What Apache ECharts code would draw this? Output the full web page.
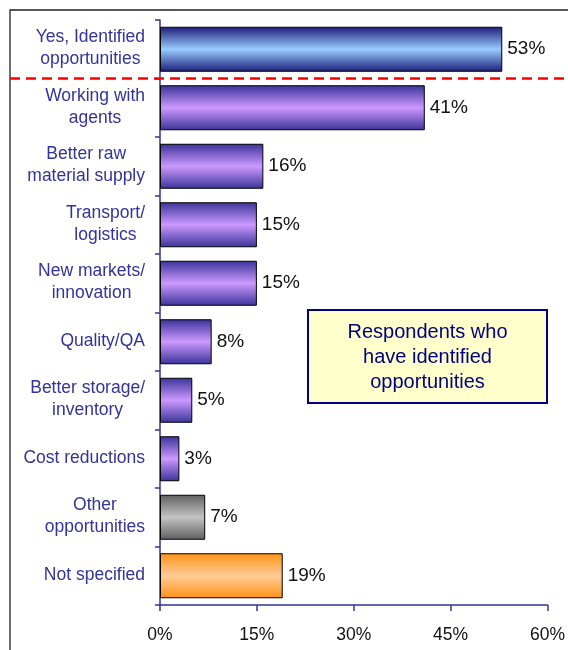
<!DOCTYPE html>
<html>
<head>
<meta charset="utf-8">
<script src="https://cdn.jsdelivr.net/npm/echarts@6/dist/echarts.min.js"></script>
<style>
  html, body { margin: 0; padding: 0; background: #fff; }
  #chart { width: 568px; height: 650px; }
</style>
</head>
<body>
<div id="chart"></div>
<script>
// Survey responses: share of respondents per opportunity type
const categories = [
  'Yes, Identified\nopportunities',
  'Working with\nagents',
  'Better raw\nmaterial supply',
  'Transport/\nlogistics',
  'New markets/\ninnovation',
  'Quality/QA',
  'Better storage/\ninventory',
  'Cost reductions',
  'Other\nopportunities',
  'Not specified'
];
const values = [53, 41, 16, 15, 15, 8, 5, 3, 7, 19];
// colour group per bar: total, detail, other, unspecified
const groups = ['total', 'detail', 'detail', 'detail', 'detail', 'detail', 'detail', 'detail', 'other', 'none'];
const xTicks = [0, 15, 30, 45, 60];
const noteText = 'Respondents who\nhave identified\nopportunities';

const palette = {
  total:  { edge: '#1c1c78', mid: '#99ccff' },
  detail: { edge: '#3a3399', mid: '#cc99ff' },
  other:  { edge: '#5f5f5f', mid: '#c4c4c4' },
  none:   { edge: '#ff9214', mid: '#ffcc99' }
};

function barFill(group) {
  const p = palette[group];
  return new echarts.graphic.LinearGradient(0, 0, 0, 1, [
    { offset: 0, color: p.edge },
    { offset: 0.5, color: p.mid },
    { offset: 1, color: p.edge }
  ]);
}

const navy = '#333399';
const fontFamily = '"Liberation Sans", Arial, sans-serif';
const catFont = '17.5px ' + fontFamily;

const chart = echarts.init(document.getElementById('chart'), null, { renderer: 'canvas' });

chart.setOption({
  animation: false,
  backgroundColor: '#ffffff',
  grid: { left: 160, right: 17, top: 20, bottom: 45, containLabel: false },
  xAxis: {
    type: 'value',
    min: xTicks[0],
    max: xTicks[xTicks.length - 1],
    interval: 15,
    splitLine: { show: false },
    axisLine: { show: true, lineStyle: { color: navy, width: 1.5 } },
    axisTick: { show: true, length: 6, lineStyle: { color: navy, width: 1.5 } },
    axisLabel: {
      formatter: '{value}%',
      color: '#111',
      fontFamily: fontFamily,
      fontSize: 17.5,
      margin: 21
    }
  },
  yAxis: {
    type: 'category',
    data: categories,
    inverse: true,
    axisLine: { show: true, lineStyle: { color: navy, width: 1.5 } },
    axisTick: { show: true, length: 5, lineStyle: { color: navy, width: 1.5 } },
    // labels are laid out below as centred blocks flush against the axis
    axisLabel: { show: false }
  },
  series: [{
    type: 'bar',
    data: values.map((v, i) => ({
      value: v,
      itemStyle: { color: barFill(groups[i]), borderColor: '#000', borderWidth: 1 }
    })),
    barWidth: 45,
    label: {
      show: true,
      position: 'right',
      distance: 5,
      formatter: '{c}%',
      color: '#111',
      fontFamily: fontFamily,
      fontSize: 19
    }
  }]
});

// Category labels: lines centred within their block, block right-aligned at the axis
const measureCtx = document.createElement('canvas').getContext('2d');
measureCtx.font = catFont;
const axisX = chart.convertToPixel({ xAxisIndex: 0 }, 0);
const labelRight = axisX - 15;
const catLabels = categories.map((name, i) => {
  const blockWidth = Math.max(...name.split('\n').map(l => measureCtx.measureText(l).width));
  return {
    type: 'text',
    x: labelRight - blockWidth / 2,
    y: chart.convertToPixel({ yAxisIndex: 0 }, i) - 1,
    style: {
      text: name,
      fill: navy,
      font: catFont,
      lineHeight: 22,
      align: 'center',
      verticalAlign: 'middle'
    },
    silent: true, z: 5
  };
});

// Frame, divider below the overall answer, and the note box
const yTop = chart.convertToPixel({ yAxisIndex: 0 }, 0);
const yNext = chart.convertToPixel({ yAxisIndex: 0 }, 1);
const dividerY = (yTop + yNext) / 2;

chart.setOption({
  graphic: [
    {
      type: 'rect',
      shape: { x: 10, y: 10, width: 700, height: 800 },
      style: { fill: null, stroke: '#222', lineWidth: 1.3 },
      silent: true, z: 0
    },
    {
      type: 'line',
      shape: { x1: 10, y1: dividerY, x2: 568, y2: dividerY },
      style: { stroke: '#ff0000', lineWidth: 2.5, lineDash: [10, 6] },
      silent: true, z: 10
    },
    {
      type: 'rect',
      shape: { x: 308, y: 310, width: 239, height: 93 },
      style: { fill: '#ffffcc', stroke: '#000080', lineWidth: 2 },
      silent: true, z: 10
    },
    {
      type: 'text',
      x: 427.5, y: 357.5,
      style: {
        text: noteText,
        fill: '#000080',
        font: '20px ' + fontFamily,
        lineHeight: 25,
        align: 'center',
        verticalAlign: 'middle'
      },
      silent: true, z: 11
    }
  ].concat(catLabels)
});
</script>
</body>
</html>
